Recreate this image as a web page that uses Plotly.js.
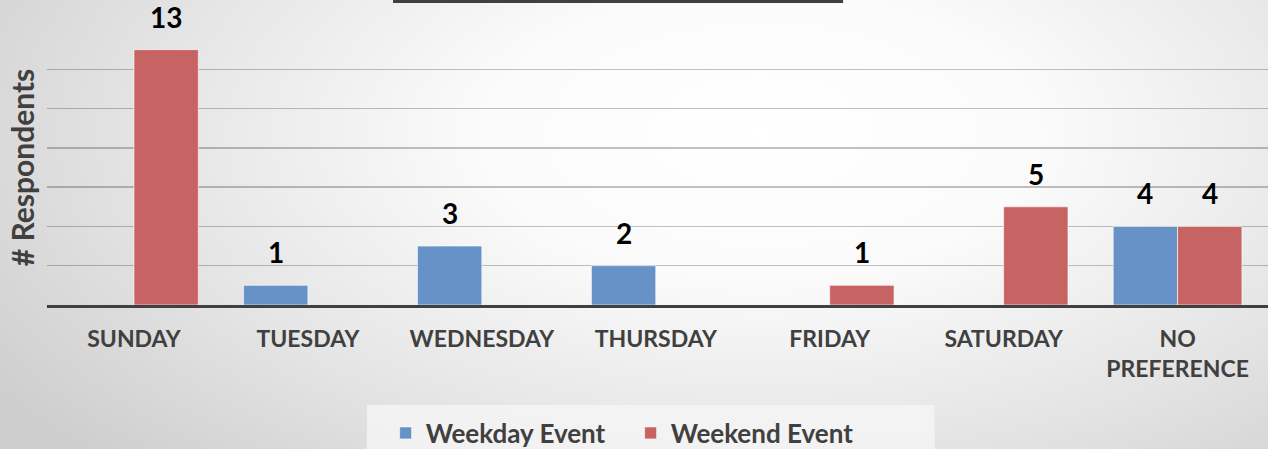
<!DOCTYPE html>
<html>
<head>
<meta charset="utf-8">
<script src="https://cdn.plot.ly/plotly-3.0.1.min.js"></script>
<style>
html,body{margin:0;padding:0;}
#chart{width:1268px;height:449px;background:radial-gradient(ellipse 72% 105% at 60% 30%, #ffffff 0%, #fbfbfb 30%, #e4e4e4 68%, #cecece 100%);}
</style>
</head>
<body>
<div id="chart"></div>
<script>
var categories = ["SUNDAY", "TUESDAY", "WEDNESDAY", "THURSDAY", "FRIDAY", "SATURDAY", "NO<br>PREFERENCE"];
var weekday = [null, 1, 3, 2, null, null, 4];
var weekend = [13, null, null, null, 1, 5, 4];
var seriesNames = ["Weekday Event", "Weekend Event"];
var seriesColors = ["#6792c7", "#c76463"];

var W = 1268, H = 449;
var margin = {l:47, r:0, t:30, b:144, autoexpand:false};
var xRange = [-0.5, 6.52];
var bargap = 0.26;

var lineCol = "rgba(255,255,255,0.6)";
var series = [weekday, weekend];
var traces = series.map(function(vals, s){
  return {type:"bar", name:seriesNames[s], x:categories, y:vals,
    marker:{color:seriesColors[s], line:{color:lineCol, width:1}}};
});

// data labels: one per bar, offset to the bar's slot within its group
var plotW = W - margin.l - margin.r;
var catPx = plotW / (xRange[1] - xRange[0]);
var barPx = catPx * (1 - bargap) / series.length;
var annotations = [];
series.forEach(function(vals, s){
  vals.forEach(function(v, i){
    if (v === null) return;
    annotations.push({x:categories[i], y:v, xref:"x", yref:"y", text:String(v),
      showarrow:false, yanchor:"bottom", yshift:14,
      xshift:(s - (series.length - 1) / 2) * barPx,
      font:{family:"Lato", size:28, color:"#000000", weight:"bold"}});
  });
});

var layout = {
  width:W, height:H,
  margin:margin,
  paper_bgcolor:"rgba(0,0,0,0)",
  plot_bgcolor:"rgba(0,0,0,0)",
  font:{family:"Lato", color:"#404040"},
  barmode:"group", bargap:bargap, bargroupgap:0,
  showlegend:true,
  legend:{orientation:"h", x:0.478, xanchor:"center", y:-0.38, yanchor:"top",
    bgcolor:"rgba(0,0,0,0)", font:{family:"Lato", size:26, color:"#404040", weight:"bold"},
    traceorder:"normal", entrywidth:200, entrywidthmode:"pixels"},
  xaxis:{type:"category", range:xRange, showline:true, linecolor:"#404040", linewidth:3,
    ticks:"outside", ticklen:11, tickcolor:"rgba(0,0,0,0)", showgrid:false, automargin:false,
    tickfont:{family:"Lato", size:23, color:"#404040", weight:"bold"}, fixedrange:true},
  yaxis:{range:[0,14], dtick:2, showticklabels:false, showgrid:true, gridcolor:"rgba(0,0,0,0.24)", gridwidth:1.5,
    zeroline:false, showline:false, automargin:false,
    title:{text:"# Respondents", font:{family:"Lato", size:30, color:"#404040", weight:"bold"}, standoff:2},
    fixedrange:true},
  annotations:annotations,
  shapes:[
    {type:"rect", xref:"paper", yref:"paper", x0:0.262, x1:0.727, y0:-0.5236, y1:-0.3636,
     fillcolor:"rgba(245,245,245,0.85)", line:{width:0}, layer:"below"},
    {type:"rect", xref:"paper", yref:"paper", x0:0.2834, x1:0.652, y0:1.0985, y1:1.12,
     fillcolor:"#404040", line:{width:0}}
  ]
};

Plotly.newPlot("chart", traces, layout, {displayModeBar:false, staticPlot:true});
</script>
</body>
</html>
